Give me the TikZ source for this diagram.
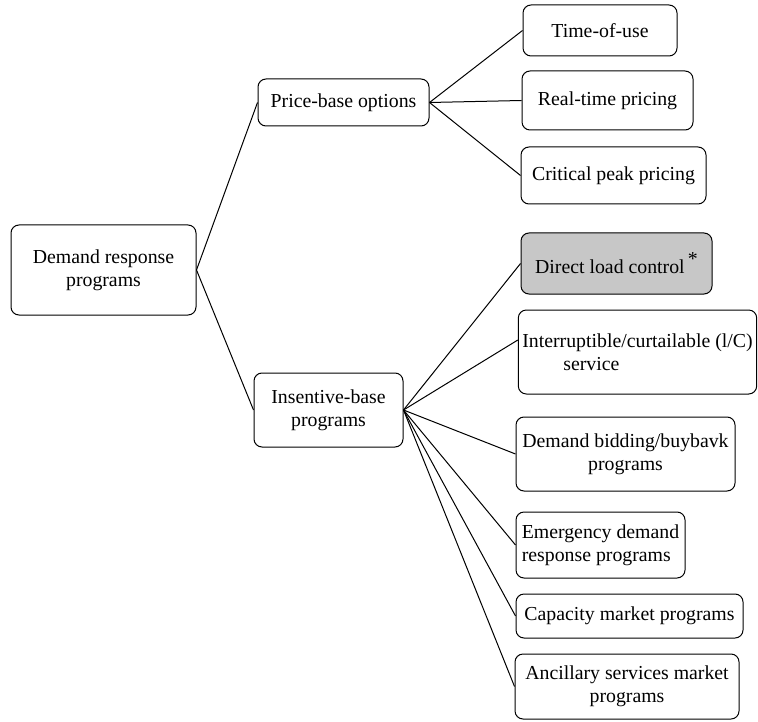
\documentclass[tikz,border=0pt]{standalone}
\usepackage{fontspec}
\setmainfont{Liberation Serif}
\usetikzlibrary{positioning}

\begin{document}
\begin{tikzpicture}[x=0.5pt, y=-0.5pt, box/.style={rectangle, rounded corners=4pt, draw, line width=0.5pt, inner sep=2pt, align=center, font=\fontsize{9.9}{11.5}\selectfont}, link/.style={line width=0.5pt}]

            \useasboundingbox (0,0) rectangle (758,721);

            \node[box, minimum width=92.5pt, minimum height=45pt] (root) at (103.5,270) {Demand response\\programs};

            \node[box, minimum width=85.5pt, minimum height=23.5pt] (price) at (343.5,102.5) {Price-base options};
            \node[box, minimum width=74.5pt, minimum height=37pt] (incent) at (328.5,410) {Insentive-base\\programs};

            \node[box, minimum width=77pt, minimum height=25.5pt] (tou) at (600,30.5) {Time-of-use};
            \node[box, minimum width=85.5pt, minimum height=29.5pt] (rtp) at (607.5,100.5) {Real-time pricing};
            \node[box, minimum width=92.5pt, minimum height=28.5pt] (cpp) at (613.5,175.5) {Critical peak pricing};

            \node[box, fill=black!22, minimum width=95.5pt, minimum height=30.5pt] (dlc) at (616.5,263.5) {Direct load control\,\raisebox{0.4em}{*}};
            \node[box, align=left, minimum width=119pt, minimum height=42pt] (ic) at (637.5,352) {Interruptible/curtailable (l/C)\\\hspace*{20.5pt}service};
            \node[box, minimum width=109.5pt, minimum height=37pt] (bid) at (625.5,454) {Demand bidding/buybavk\\programs};
            \node[box, align=left, minimum width=84.5pt, minimum height=33pt] (edr) at (600.5,545) {Emergency demand\\response programs};
            \node[box, minimum width=113.5pt, minimum height=22pt] (cap) at (629.5,616) {Capacity market programs};
            \node[box, minimum width=112pt, minimum height=32.5pt] (anc) at (627,686.5) {Ancillary services market\\programs};

            \draw[link] (root.east) -- (price.west);
            \draw[link] (root.east) -- (incent.west);

            \foreach \kid in {tou,rtp,cpp}
                \draw[link] (price.east) -- (\kid.west);

            \foreach \kid in {dlc,bid,edr,cap,anc}
                \draw[link] (incent.east) -- (\kid.west);
            \draw[link] (incent.east) -- ([yshift=6pt]ic.west);

        \end{tikzpicture}
\end{document}
